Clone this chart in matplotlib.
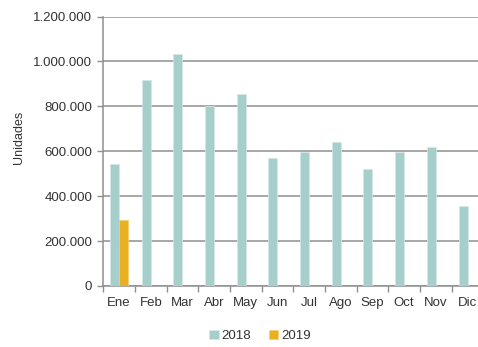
import numpy as np
import matplotlib.pyplot as plt

plt.rcParams['font.family'] = ['Liberation Sans', 'DejaVu Sans']

meses = ['Ene', 'Feb', 'Mar', 'Abr', 'May', 'Jun', 'Jul', 'Ago', 'Sep', 'Oct', 'Nov', 'Dic']
ventas_2018 = [543000, 918000, 1033000, 801000, 856000, 569000, 595000, 641000, 522000, 595000, 620000, 358000]
ventas_2019 = [294000]
y_ticks = [0, 200000, 400000, 600000, 800000, 1000000, 1200000]
y_tick_labels = ['0', '200.000', '400.000', '600.000', '800.000', '1.000.000', '1.200.000']

c_2018 = '#a6cfcc'
c_2019 = '#e9b022'
c_texto = '#333333'
c_linea = '#8f8f8f'

fig = plt.figure(figsize=(4.78, 3.47), dpi=100)
ax = fig.add_axes([0.216, 0.1758, 1.0112 - 0.216, 0.9524 - 0.1758])

x = np.arange(len(meses))
w = 0.284
ax.bar(x - w / 2, ventas_2018, width=w, color=c_2018, edgecolor='#d4e9e7', linewidth=0.5, label='2018', zorder=3)
ax.bar(x[:len(ventas_2019)] + w / 2, ventas_2019, width=w, color=c_2019, edgecolor='#f3cf72', linewidth=0.5,
       label='2019', zorder=3)

ax.set_xlim(-0.5, len(meses) - 0.5)
ax.set_ylim(0, 1200000)
ax.set_yticks(y_ticks)
ax.set_yticklabels(y_tick_labels)
ax.grid(axis='y', color=c_linea, linewidth=1.1, zorder=0)

# ticks between months, labels centred under each month
ax.set_xticks(np.arange(len(meses) + 1) - 0.5)
ax.set_xticklabels([])
ax.set_xticks(x, minor=True)
ax.set_xticklabels(meses, minor=True)
ax.tick_params(axis='x', which='major', length=4, color=c_linea, width=1)
ax.tick_params(axis='x', which='minor', length=0, pad=8, labelsize=9.5, labelcolor=c_texto)
ax.tick_params(axis='y', length=4, color=c_linea, width=1, pad=4, labelsize=9.5, labelcolor=c_texto)

for s in ['top', 'right']:
    ax.spines[s].set_visible(False)
for s in ['left', 'bottom']:
    ax.spines[s].set_color(c_linea)
    ax.spines[s].set_linewidth(1.1)

ax.set_ylabel('Unidades', fontsize=9, color=c_texto)
ax.yaxis.set_label_coords(-0.207, 0.55)

fig.legend(loc='center', bbox_to_anchor=(260 / 478, 1 - 336 / 347), ncol=2, frameon=False,
           fontsize=9.5, labelcolor=c_texto, handlelength=0.75, handleheight=0.75,
           handletextpad=0.2, columnspacing=1.3)

fig.savefig('out.png', dpi=100)
